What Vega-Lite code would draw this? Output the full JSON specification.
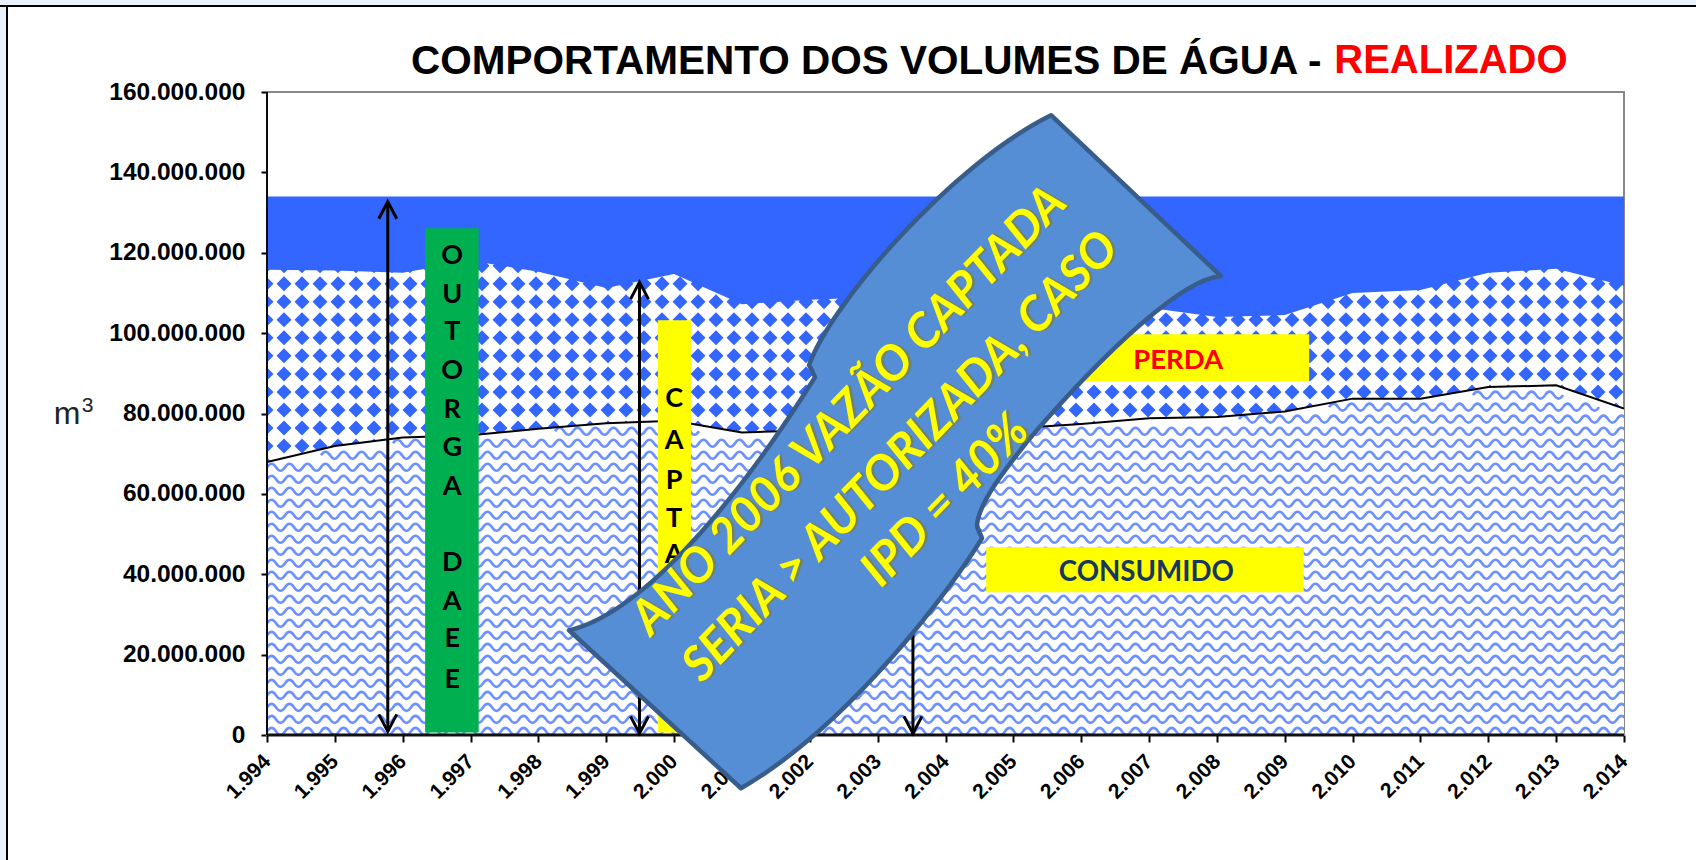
{"$schema":"https://vega.github.io/schema/vega-lite/v6.json","width":1357,"height":643,"autosize":{"type":"none"},"padding":{"left":267,"top":92,"right":72,"bottom":125},"background":"#FFFFFF","config":{"view":{"stroke":null}},
"title":{"text":"COMPORTAMENTO DOS VOLUMES DE ÁGUA -","anchor":"start","frame":"group","dx":144,"offset":18,"dy":188.4,"font":"Liberation Sans","fontSize":40.5,"fontWeight":"bold","color":"#000000"},
"datasets":{
"captado":[
{"x":1994,"y":115800000,"y2":134000000},{"x":1995,"y":115600000,"y2":134000000},{"x":1996,"y":115000000,"y2":134000000},{"x":1997,"y":118000000,"y2":134000000},{"x":1998,"y":115300000,"y2":134000000},{"x":1999,"y":111200000,"y2":134000000},{"x":2000,"y":114700000,"y2":134000000},{"x":2001,"y":107200000,"y2":134000000},{"x":2002,"y":108300000,"y2":134000000},{"x":2003,"y":109000000,"y2":134000000},{"x":2004,"y":110000000,"y2":134000000},{"x":2005,"y":111000000,"y2":134000000},{"x":2006,"y":108000000,"y2":134000000},{"x":2007,"y":106300000,"y2":134000000},{"x":2008,"y":104000000,"y2":134000000},{"x":2009,"y":104500000,"y2":134000000},{"x":2010,"y":110000000,"y2":134000000},{"x":2011,"y":110700000,"y2":134000000},{"x":2012,"y":115000000,"y2":134000000},{"x":2013,"y":116000000,"y2":134000000},{"x":2014,"y":111800000,"y2":134000000}
],
"consumido":[
{"x":1994,"y":67900000},{"x":1995,"y":71900000},{"x":1996,"y":74000000},{"x":1997,"y":74600000},{"x":1998,"y":76200000},{"x":1999,"y":77600000},{"x":2000,"y":78200000},{"x":2001,"y":75300000},{"x":2002,"y":75800000},{"x":2003,"y":76000000},{"x":2004,"y":76000000},{"x":2005,"y":76300000},{"x":2006,"y":77400000},{"x":2007,"y":78800000},{"x":2008,"y":79100000},{"x":2009,"y":80500000},{"x":2010,"y":83700000},{"x":2011,"y":83700000},{"x":2012,"y":86600000},{"x":2013,"y":87000000},{"x":2014,"y":81200000}
],
"diamondRows":[{"x":1994,"y":116750000},{"x":1994,"y":112270000},{"x":1994,"y":107790000},{"x":1994,"y":103300000},{"x":1994,"y":98820000},{"x":1994,"y":94340000},{"x":1994,"y":89860000},{"x":1994,"y":85380000},{"x":1994,"y":80890000},{"x":1994,"y":76410000},{"x":1994,"y":71930000},{"x":1994,"y":67450000}],
"waveRows":[{"x":1994,"y":900000},{"x":1994,"y":3890000},{"x":1994,"y":6870000},{"x":1994,"y":9860000},{"x":1994,"y":12850000},{"x":1994,"y":15840000},{"x":1994,"y":18830000},{"x":1994,"y":21810000},{"x":1994,"y":24800000},{"x":1994,"y":27790000},{"x":1994,"y":30780000},{"x":1994,"y":33770000},{"x":1994,"y":36750000},{"x":1994,"y":39740000},{"x":1994,"y":42730000},{"x":1994,"y":45720000},{"x":1994,"y":48710000},{"x":1994,"y":51690000},{"x":1994,"y":54680000},{"x":1994,"y":57670000},{"x":1994,"y":60660000},{"x":1994,"y":63650000},{"x":1994,"y":66630000},{"x":1994.796,"y":69620000},{"x":1995.857,"y":72610000},{"x":2005.143,"y":75600000},{"x":2008.326,"y":78590000}],
"waveTiles":[{"x":1998.245,"y":75600000},{"x":1998.51,"y":75600000},{"x":1998.775,"y":75600000},{"x":1999.04,"y":75600000},{"x":1999.306,"y":75600000},{"x":1999.571,"y":75600000},{"x":1999.836,"y":75600000},{"x":2000.102,"y":75600000},
{"x":2009.653,"y":81580000},{"x":2009.918,"y":81580000},{"x":2010.183,"y":81580000},{"x":2010.449,"y":81580000},{"x":2010.714,"y":81580000},{"x":2010.979,"y":81580000},{"x":2011.245,"y":81580000},{"x":2011.51,"y":81580000},{"x":2011.775,"y":81580000},{"x":2012.04,"y":81580000},{"x":2012.306,"y":81580000},{"x":2012.571,"y":81580000},{"x":2012.836,"y":81580000},{"x":2013.102,"y":81580000},{"x":2013.367,"y":81580000},
{"x":2011.775,"y":84570000},{"x":2012.04,"y":84570000},{"x":2012.306,"y":84570000},{"x":2012.571,"y":84570000},{"x":2012.836,"y":84570000}],
"arrows":[{"x":1995.78,"y":900000,"y2":132700000},{"x":1999.49,"y":400000,"y2":112700000},{"x":2003.52,"y":400000,"y2":70000000}],
"arrowTops":[{"x":1995.78,"y":132700000},{"x":1999.49,"y":112700000},{"x":2003.52,"y":70000000}],
"letters":[
{"x":1996.73,"y":119200000,"t":"O"},{"x":1996.73,"y":109500000,"t":"U"},{"x":1996.73,"y":100200000,"t":"T"},{"x":1996.73,"y":90500000,"t":"O"},{"x":1996.73,"y":80800000,"t":"R"},{"x":1996.73,"y":71300000,"t":"G"},{"x":1996.73,"y":61600000,"t":"A"},{"x":1996.73,"y":42700000,"t":"D"},{"x":1996.73,"y":33000000,"t":"A"},{"x":1996.73,"y":23800000,"t":"E"},{"x":1996.73,"y":13800000,"t":"E"},
{"x":2000,"y":83600000,"t":"C"},{"x":2000,"y":73100000,"t":"A"},{"x":2000,"y":63300000,"t":"P"},{"x":2000,"y":53800000,"t":"T"},{"x":2000,"y":44900000,"t":"A"},{"x":2000,"y":35000000,"t":"D"},{"x":2000,"y":25000000,"t":"A"}],
"bannerText":[{"x":2002.59,"y":80600000,"t":"ANO 2006 VAZÃO CAPTADA"},{"x":2003.35,"y":69100000,"t":"SERIA > AUTORIZADA, CASO"},{"x":2004.01,"y":58200000,"t":"IPD = 40%"}]
},
"encoding":{
"x":{"field":"x","type":"quantitative","scale":{"domain":[1994,2014],"nice":false,"zero":false},"axis":{"title":null,"values":[1994,1995,1996,1997,1998,1999,2000,2001,2002,2003,2004,2005,2006,2007,2008,2009,2010,2011,2012,2013,2014],"labelExpr":"replace(format(datum.value,','),regexp(',','g'),'.')","labelAngle":-45,"labelAlign":"right","labelBaseline":"middle","labelFont":"Liberation Sans","labelFontWeight":"bold","labelFontSize":21,"labelColor":"#000000","labelPadding":16,"labelOverlap":false,"labelBound":false,"labelFlush":false,"tickColor":"#000000","tickSize":7,"tickWidth":2,"domain":false,"grid":false,"zindex":0}},
"y":{"field":"y","type":"quantitative","scale":{"domain":[0,160000000],"nice":false,"zero":false},"axis":{"title":"m","titleAngle":0,"titleX":-200.5,"titleY":331,"titleAlign":"center","titleBaseline":"alphabetic","titleFont":"Liberation Sans","titleFontSize":32,"titleFontWeight":"normal","titleColor":"#222222","values":[0,20000000,40000000,60000000,80000000,100000000,120000000,140000000,160000000],"labelExpr":"replace(format(datum.value,','),regexp(',','g'),'.')","labelFont":"Liberation Sans","labelFontWeight":"bold","labelFontSize":24.5,"labelColor":"#000000","labelPadding":16,"labelOverlap":false,"labelBound":false,"labelFlush":false,"tickColor":"#000000","tickSize":6,"tickWidth":2,"domain":false,"grid":false,"zindex":0}}
},
"layer":[
{"data":{"values":[{"x":1985,"x2":2015.3,"y":181400000,"y2":204400000}]},"mark":{"type":"rect","fill":"#E9F1FB","stroke":"#000000","strokeWidth":2,"clip":false},"encoding":{"x2":{"field":"x2"},"y2":{"field":"y2"}}},
{"data":{"values":[{"x":1985,"x2":1990.168,"y":-32000000,"y2":181400000}]},"mark":{"type":"rect","fill":"#E9F1FB","stroke":"#000000","strokeWidth":2,"clip":false},"encoding":{"x2":{"field":"x2"},"y2":{"field":"y2"}}},
{"data":{"values":[{"x":1994,"x2":2014,"y":0,"y2":160000000}]},"mark":{"type":"rect","fill":null,"stroke":"#888888","strokeWidth":2},"encoding":{"x2":{"field":"x2"},"y2":{"field":"y2"}}},
{"data":{"name":"diamondRows"},"mark":{"type":"point","filled":true,"fill":"#3366FF","stroke":null,"opacity":1,"size":4,"clip":true,"shape":"M-1 -7.5l7.5 7.5-7.5 7.5-7.5-7.5 7.5-7.5zm18 0l7.5 7.5-7.5 7.5-7.5-7.5 7.5-7.5zm18 0l7.5 7.5-7.5 7.5-7.5-7.5 7.5-7.5zm18 0l7.5 7.5-7.5 7.5-7.5-7.5 7.5-7.5zm18 0l7.5 7.5-7.5 7.5-7.5-7.5 7.5-7.5zm18 0l7.5 7.5-7.5 7.5-7.5-7.5 7.5-7.5zm18 0l7.5 7.5-7.5 7.5-7.5-7.5 7.5-7.5zm18 0l7.5 7.5-7.5 7.5-7.5-7.5 7.5-7.5zm18 0l7.5 7.5-7.5 7.5-7.5-7.5 7.5-7.5zm18 0l7.5 7.5-7.5 7.5-7.5-7.5 7.5-7.5zm18 0l7.5 7.5-7.5 7.5-7.5-7.5 7.5-7.5zm18 0l7.5 7.5-7.5 7.5-7.5-7.5 7.5-7.5zm18 0l7.5 7.5-7.5 7.5-7.5-7.5 7.5-7.5zm18 0l7.5 7.5-7.5 7.5-7.5-7.5 7.5-7.5zm18 0l7.5 7.5-7.5 7.5-7.5-7.5 7.5-7.5zm18 0l7.5 7.5-7.5 7.5-7.5-7.5 7.5-7.5zm18 0l7.5 7.5-7.5 7.5-7.5-7.5 7.5-7.5zm18 0l7.5 7.5-7.5 7.5-7.5-7.5 7.5-7.5zm18 0l7.5 7.5-7.5 7.5-7.5-7.5 7.5-7.5zm18 0l7.5 7.5-7.5 7.5-7.5-7.5 7.5-7.5zm18 0l7.5 7.5-7.5 7.5-7.5-7.5 7.5-7.5zm18 0l7.5 7.5-7.5 7.5-7.5-7.5 7.5-7.5zm18 0l7.5 7.5-7.5 7.5-7.5-7.5 7.5-7.5zm18 0l7.5 7.5-7.5 7.5-7.5-7.5 7.5-7.5zm18 0l7.5 7.5-7.5 7.5-7.5-7.5 7.5-7.5zm18 0l7.5 7.5-7.5 7.5-7.5-7.5 7.5-7.5zm18 0l7.5 7.5-7.5 7.5-7.5-7.5 7.5-7.5zm18 0l7.5 7.5-7.5 7.5-7.5-7.5 7.5-7.5zm18 0l7.5 7.5-7.5 7.5-7.5-7.5 7.5-7.5zm18 0l7.5 7.5-7.5 7.5-7.5-7.5 7.5-7.5zm18 0l7.5 7.5-7.5 7.5-7.5-7.5 7.5-7.5zm18 0l7.5 7.5-7.5 7.5-7.5-7.5 7.5-7.5zm18 0l7.5 7.5-7.5 7.5-7.5-7.5 7.5-7.5zm18 0l7.5 7.5-7.5 7.5-7.5-7.5 7.5-7.5zm18 0l7.5 7.5-7.5 7.5-7.5-7.5 7.5-7.5zm18 0l7.5 7.5-7.5 7.5-7.5-7.5 7.5-7.5zm18 0l7.5 7.5-7.5 7.5-7.5-7.5 7.5-7.5zm18 0l7.5 7.5-7.5 7.5-7.5-7.5 7.5-7.5zm18 0l7.5 7.5-7.5 7.5-7.5-7.5 7.5-7.5zm18 0l7.5 7.5-7.5 7.5-7.5-7.5 7.5-7.5zm18 0l7.5 7.5-7.5 7.5-7.5-7.5 7.5-7.5zm18 0l7.5 7.5-7.5 7.5-7.5-7.5 7.5-7.5zm18 0l7.5 7.5-7.5 7.5-7.5-7.5 7.5-7.5zm18 0l7.5 7.5-7.5 7.5-7.5-7.5 7.5-7.5zm18 0l7.5 7.5-7.5 7.5-7.5-7.5 7.5-7.5zm18 0l7.5 7.5-7.5 7.5-7.5-7.5 7.5-7.5zm18 0l7.5 7.5-7.5 7.5-7.5-7.5 7.5-7.5zm18 0l7.5 7.5-7.5 7.5-7.5-7.5 7.5-7.5zm18 0l7.5 7.5-7.5 7.5-7.5-7.5 7.5-7.5zm18 0l7.5 7.5-7.5 7.5-7.5-7.5 7.5-7.5zm18 0l7.5 7.5-7.5 7.5-7.5-7.5 7.5-7.5zm18 0l7.5 7.5-7.5 7.5-7.5-7.5 7.5-7.5zm18 0l7.5 7.5-7.5 7.5-7.5-7.5 7.5-7.5zm18 0l7.5 7.5-7.5 7.5-7.5-7.5 7.5-7.5zm18 0l7.5 7.5-7.5 7.5-7.5-7.5 7.5-7.5zm18 0l7.5 7.5-7.5 7.5-7.5-7.5 7.5-7.5zm18 0l7.5 7.5-7.5 7.5-7.5-7.5 7.5-7.5zm18 0l7.5 7.5-7.5 7.5-7.5-7.5 7.5-7.5zm18 0l7.5 7.5-7.5 7.5-7.5-7.5 7.5-7.5zm18 0l7.5 7.5-7.5 7.5-7.5-7.5 7.5-7.5zm18 0l7.5 7.5-7.5 7.5-7.5-7.5 7.5-7.5zm18 0l7.5 7.5-7.5 7.5-7.5-7.5 7.5-7.5zm18 0l7.5 7.5-7.5 7.5-7.5-7.5 7.5-7.5zm18 0l7.5 7.5-7.5 7.5-7.5-7.5 7.5-7.5zm18 0l7.5 7.5-7.5 7.5-7.5-7.5 7.5-7.5zm18 0l7.5 7.5-7.5 7.5-7.5-7.5 7.5-7.5zm18 0l7.5 7.5-7.5 7.5-7.5-7.5 7.5-7.5zm18 0l7.5 7.5-7.5 7.5-7.5-7.5 7.5-7.5zm18 0l7.5 7.5-7.5 7.5-7.5-7.5 7.5-7.5zm18 0l7.5 7.5-7.5 7.5-7.5-7.5 7.5-7.5zm18 0l7.5 7.5-7.5 7.5-7.5-7.5 7.5-7.5zm18 0l7.5 7.5-7.5 7.5-7.5-7.5 7.5-7.5zm18 0l7.5 7.5-7.5 7.5-7.5-7.5 7.5-7.5zm18 0l7.5 7.5-7.5 7.5-7.5-7.5 7.5-7.5zm18 0l7.5 7.5-7.5 7.5-7.5-7.5 7.5-7.5zm18 0l7.5 7.5-7.5 7.5-7.5-7.5 7.5-7.5zm18 0l7.5 7.5-7.5 7.5-7.5-7.5 7.5-7.5zm18 0l7.5 7.5-7.5 7.5-7.5-7.5 7.5-7.5z"}},
{"data":{"name":"captado"},"mark":{"type":"area","fill":"#3366FF","opacity":1,"clip":true},"encoding":{"y2":{"field":"y2"}}},
{"data":{"name":"consumido"},"mark":{"type":"area","fill":"#FFFFFF","opacity":1,"clip":true}},
{"data":{"name":"waveRows"},"mark":{"type":"point","filled":false,"fill":null,"stroke":"#3366FF","strokeWidth":2.6,"opacity":0.72,"size":4,"clip":true,"shape":"M0 0q4.5 -7 9 0t9 0t9 0t9 0t9 0t9 0t9 0t9 0t9 0t9 0t9 0t9 0t9 0t9 0t9 0t9 0t9 0t9 0t9 0t9 0t9 0t9 0t9 0t9 0t9 0t9 0t9 0t9 0t9 0t9 0t9 0t9 0t9 0t9 0t9 0t9 0t9 0t9 0t9 0t9 0t9 0t9 0t9 0t9 0t9 0t9 0t9 0t9 0t9 0t9 0t9 0t9 0t9 0t9 0t9 0t9 0t9 0t9 0t9 0t9 0t9 0t9 0t9 0t9 0t9 0t9 0t9 0t9 0t9 0t9 0t9 0t9 0t9 0t9 0t9 0t9 0t9 0t9 0t9 0t9 0t9 0t9 0t9 0t9 0t9 0t9 0t9 0t9 0t9 0t9 0t9 0t9 0t9 0t9 0t9 0t9 0t9 0t9 0t9 0t9 0t9 0t9 0t9 0t9 0t9 0t9 0t9 0t9 0t9 0t9 0t9 0t9 0t9 0t9 0t9 0t9 0t9 0t9 0t9 0t9 0t9 0t9 0t9 0t9 0t9 0t9 0t9 0t9 0t9 0t9 0t9 0t9 0t9 0t9 0t9 0t9 0t9 0t9 0t9 0t9 0t9 0t9 0t9 0t9 0t9 0t9 0t9 0t9 0t9 0t9 0t9 0t9 0t9 0t9 0t9 0t9 0t9 0t9 0"}},
{"data":{"name":"waveTiles"},"mark":{"type":"point","filled":false,"fill":null,"stroke":"#3366FF","strokeWidth":2.6,"opacity":0.72,"size":4,"clip":true,"shape":"M0 0q4.5 -7 9 0t9 0"}},
{"data":{"name":"consumido"},"mark":{"type":"line","stroke":"#000000","strokeWidth":2,"clip":true}},
{"data":{"values":[{"x":1994,"y":0,"x2":2014}]},"mark":{"type":"rule","stroke":"#111111","strokeWidth":3},"encoding":{"x2":{"field":"x2"}}},
{"data":{"values":[{"x":1994,"y":0,"y2":160000000}]},"mark":{"type":"rule","stroke":"#0A0A14","strokeWidth":2},"encoding":{"y2":{"field":"y2"}}},
{"data":{"name":"arrows"},"mark":{"type":"rule","stroke":"#000000","strokeWidth":3},"encoding":{"y2":{"field":"y2"}}},
{"data":{"name":"arrows"},"mark":{"type":"point","filled":false,"fill":null,"stroke":"#000000","strokeWidth":3,"opacity":1,"size":4,"shape":"M-9 -17L0 0L9 -17"}},
{"data":{"name":"arrowTops"},"mark":{"type":"point","filled":false,"fill":null,"stroke":"#000000","strokeWidth":3,"opacity":1,"size":4,"shape":"M-9 17L0 0L9 17"}},
{"data":{"values":[{"x":1996.33,"x2":1997.12,"y":126100000,"y2":600000}]},"mark":{"type":"rect","fill":"#00B050"},"encoding":{"x2":{"field":"x2"},"y2":{"field":"y2"}}},
{"data":{"values":[{"x":1999.76,"x2":2000.25,"y":103200000,"y2":600000}]},"mark":{"type":"rect","fill":"#FFFF00"},"encoding":{"x2":{"field":"x2"},"y2":{"field":"y2"}}},
{"data":{"values":[{"x":2005.5,"x2":2009.36,"y":99700000,"y2":88000000}]},"mark":{"type":"rect","fill":"#FFFF00"},"encoding":{"x2":{"field":"x2"},"y2":{"field":"y2"}}},
{"data":{"values":[{"x":2004.6,"x2":2009.28,"y":46700000,"y2":35500000}]},"mark":{"type":"rect","fill":"#FFFF00"},"encoding":{"x2":{"field":"x2"},"y2":{"field":"y2"}}},
{"data":{"name":"letters"},"mark":{"type":"text","font":"Lato","fontWeight":"bold","fontSize":27,"fill":"#000000","align":"center","baseline":"middle"},"encoding":{"text":{"field":"t"}}},
{"data":{"values":[{"x":2007.43,"y":93000000,"t":"PERDA"}]},"mark":{"type":"text","font":"Lato","fontWeight":"bold","fontSize":27.5,"fill":"#FF0000","align":"center","baseline":"middle"},"encoding":{"text":{"field":"t"}}},
{"data":{"values":[{"x":2006.96,"y":40400000,"t":"CONSUMIDO"}]},"mark":{"type":"text","font":"Lato","fontWeight":"bold","fontSize":27.7,"fill":"#17375E","align":"center","baseline":"middle"},"encoding":{"text":{"field":"t"}}},
{"data":{"values":[{"x":2003.256,"y":70860000}]},"mark":{"type":"point","filled":true,"fill":"#558ED5","stroke":"#385D8A","strokeWidth":4.5,"strokeJoin":"round","opacity":1,"size":4,"shape":"M156 -335L326 -174C290 -172 215 -105 134 -11C112 17 85 50 82 74C82 80 86 84 87 88C55 140 -45 275 -154 338L-326 180C-260 165 -170 70 -80 -73C-82 -78 -84 -82 -86 -85C-65 -145 55 -285 156 -335Z"}},
{"data":{"name":"bannerText"},"mark":{"type":"text","font":"Lato","fontWeight":"bold","fontStyle":"italic","fontSize":48,"fill":"#7F7F40","opacity":0.7,"align":"center","baseline":"middle","angle":-46,"dx":2,"dy":2},"encoding":{"text":{"field":"t"}}},
{"data":{"name":"bannerText"},"mark":{"type":"text","font":"Lato","fontWeight":"bold","fontStyle":"italic","fontSize":48,"fill":"#FFFF00","align":"center","baseline":"middle","angle":-46},"encoding":{"text":{"field":"t"}}},
{"data":{"values":[{"x":2009.73,"y":167800000,"t":"REALIZADO"}]},"mark":{"type":"text","font":"Liberation Sans","fontWeight":"bold","fontSize":40,"fill":"#FF0000","align":"left","baseline":"middle"},"encoding":{"text":{"field":"t"}}},
{"data":{"values":[{"x":1991.354,"y":81940000,"t":"3"}]},"mark":{"type":"text","font":"Liberation Sans","fontSize":21,"fill":"#222222","align":"center","baseline":"middle"},"encoding":{"text":{"field":"t"}}}
]}
